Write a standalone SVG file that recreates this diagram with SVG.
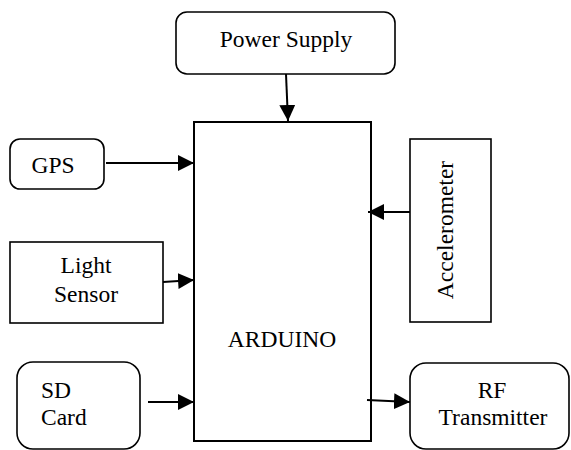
<svg xmlns="http://www.w3.org/2000/svg" width="571" height="450" viewBox="0 0 571 450">
<defs>
<style>
.box{fill:#fff;stroke:#000;stroke-width:1.6}
.main{fill:#fff;stroke:#000;stroke-width:2}
.lbl{font-family:'Liberation Serif','DejaVu Serif',serif;font-size:23.5px;fill:#000}
.c{text-anchor:middle}
.con{stroke:#000;stroke-width:2;fill:none}
</style>
<marker id="ah" viewBox="0 0 16 16" refX="16" refY="8" markerWidth="16" markerHeight="16" markerUnits="userSpaceOnUse" orient="auto">
<path d="M0,0 L16,8 L0,16 Z" fill="#000"/>
</marker>
</defs>
<rect width="571" height="450" fill="#fff"/>
<g id="arduino">
<rect class="main" x="194" y="122" width="177" height="319"/>
<text class="lbl c" x="282" y="347">ARDUINO</text>
</g>
<g id="power">
<rect class="box" x="176" y="12" width="219" height="62" rx="11"/>
<text class="lbl c" x="286" y="47">Power Supply</text>
</g>
<g id="gps">
<rect class="box" x="10" y="139" width="94" height="50" rx="10"/>
<text class="lbl c" x="53" y="173">GPS</text>
</g>
<g id="light">
<rect class="box" x="10" y="242" width="153" height="81"/>
<text class="lbl c" x="86" y="273">Light</text>
<text class="lbl c" x="86" y="302">Sensor</text>
</g>
<g id="sd">
<rect class="box" x="17" y="362" width="123" height="87" rx="16"/>
<text class="lbl" x="41" y="398">SD</text>
<text class="lbl" x="41" y="425">Card</text>
</g>
<g id="accel">
<rect class="box" x="410" y="139" width="81" height="183"/>
<text class="lbl c" transform="translate(453,230) rotate(-90)" x="0" y="0">Accelerometer</text>
</g>
<g id="rf">
<rect class="box" x="410" y="363" width="159" height="86" rx="16"/>
<text class="lbl c" x="492" y="398">RF</text>
<text class="lbl c" x="493" y="425">Transmitter</text>
</g>
<g id="connectors">
<line class="con" x1="286" y1="74" x2="288" y2="121" marker-end="url(#ah)"/>
<line class="con" x1="106" y1="163" x2="194" y2="163" marker-end="url(#ah)"/>
<line class="con" x1="163" y1="282" x2="194" y2="280" marker-end="url(#ah)"/>
<line class="con" x1="148" y1="402" x2="194" y2="402" marker-end="url(#ah)"/>
<line class="con" x1="410" y1="212" x2="368" y2="212" marker-end="url(#ah)"/>
<line class="con" x1="367" y1="400" x2="410" y2="402" marker-end="url(#ah)"/>
</g>
</svg>
